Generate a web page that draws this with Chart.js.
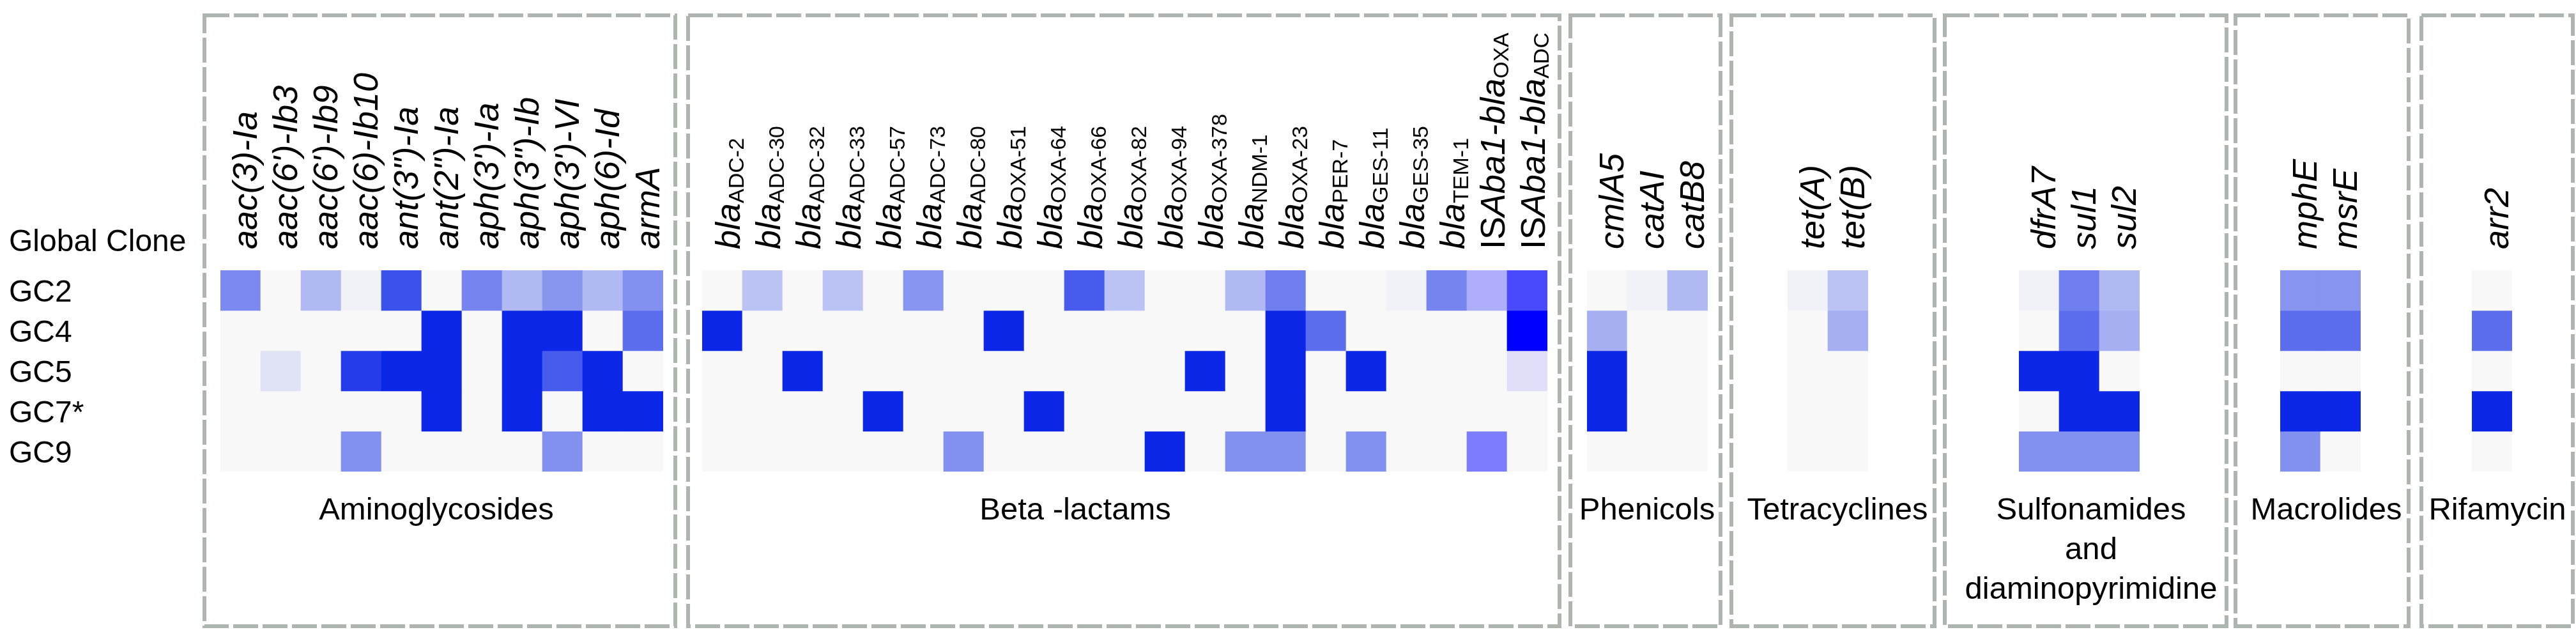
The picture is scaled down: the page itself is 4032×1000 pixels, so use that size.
<!DOCTYPE html>
<html>
<head>
<meta charset="utf-8">
<script src="https://cdn.jsdelivr.net/npm/chart.js@4"></script>
<style>
  body { margin: 0; background: #fff; }
  #wrap { position: relative; width: 4032px; height: 1000px; overflow: hidden; }
  #wrap canvas { position: absolute; top: 0; }
</style>
</head>
<body>
<div id="wrap"></div>
<script>
const cloneRows = ["GC2", "GC4", "GC5", "GC7*", "GC9"];

const aminoGenes = ["aac(3)-Ia", "aac(6')-Ib3", "aac(6')-Ib9", "aac(6)-Ib10", "ant(3\")-Ia", "ant(2\")-Ia",
                    "aph(3')-Ia", "aph(3\")-Ib", "aph(3')-VI", "aph(6)-Id", "armA"];
const aminoValues = [
  [0.53, 0, 0.3, 0.03, 0.8, 0, 0.55, 0.3, 0.47, 0.3, 0.5],
  [0, 0, 0, 0, 0, 1, 0, 1, 1, 0, 0.66],
  [0, 0.1, 0, 0.9, 1, 1, 0, 1, 0.75, 1, 0],
  [0, 0, 0, 0, 0, 1, 0, 1, 0, 1, 1],
  [0, 0, 0, 0.5, 0, 0, 0, 0, 0.5, 0, 0]
];

const betaGenes = ["bla_ADC-2", "bla_ADC-30", "bla_ADC-32", "bla_ADC-33", "bla_ADC-57", "bla_ADC-73", "bla_ADC-80",
                   "bla_OXA-51", "bla_OXA-64", "bla_OXA-66", "bla_OXA-82", "bla_OXA-94", "bla_OXA-378", "bla_NDM-1",
                   "bla_OXA-23", "bla_PER-7", "bla_GES-11", "bla_GES-35", "bla_TEM-1", "ISAba1-bla_OXA", "ISAba1-bla_ADC"];
const betaValues = [
  [0, 0.26, 0, 0.26, 0, 0.48, 0, 0, 0, 0.75, 0.26, 0, 0, 0.3, 0.58, 0, 0, 0.03, 0.55, 0.3, 0.7],
  [1, 0, 0, 0, 0, 0, 0, 1, 0, 0, 0, 0, 0, 0, 1, 0.66, 0, 0, 0, 0, 1],
  [0, 0, 1, 0, 0, 0, 0, 0, 0, 0, 0, 0, 1, 0, 1, 0, 1, 0, 0, 0, 0.1],
  [0, 0, 0, 0, 1, 0, 0, 0, 1, 0, 0, 0, 0, 0, 1, 0, 0, 0, 0, 0, 0],
  [0, 0, 0, 0, 0, 0, 0.5, 0, 0, 0, 0, 1, 0, 0.5, 0.5, 0, 0.5, 0, 0, 0.5, 0]
];

const phenGenes = ["cmlA5", "catAI", "catB8"];
const phenValues = [[0, 0.03, 0.3], [0.35, 0, 0], [1, 0, 0], [1, 0, 0], [0, 0, 0]];

const tetGenes = ["tet(A)", "tet(B)"];
const tetValues = [[0.03, 0.26], [0, 0.35], [0, 0], [0, 0], [0, 0]];

const sulGenes = ["dfrA7", "sul1", "sul2"];
const sulValues = [[0.03, 0.58, 0.3], [0, 0.66, 0.35], [1, 1, 0], [0, 1, 1], [0.5, 0.5, 0.5]];

const macGenes = ["mphE", "msrE"];
const macValues = [[0.48, 0.48], [0.66, 0.66], [0, 0], [1, 1], [0.5, 0]];

const rifGenes = ["arr2"];
const rifValues = [[0], [0.66], [0], [1], [0]];

// layout of the seven boxes (page pixels)
const groups = [
  {title: ["Aminoglycosides"], genes: aminoGenes, values: aminoValues, box: [320, 1057], cellL: 345, titleX: 683, rowLabels: true},
  {title: ["Beta -lactams"], genes: betaGenes, values: betaValues, box: [1077, 2441], cellL: 1099, titleX: 1683},
  {title: ["Phenicols"], genes: phenGenes, values: phenValues, box: [2458, 2693], cellL: 2484, titleX: 2578},
  {title: ["Tetracyclines"], genes: tetGenes, values: tetValues, box: [2710, 3028], cellL: 2798, titleX: 2876},
  {title: ["Sulfonamides", "and", "diaminopyrimidine"], genes: sulGenes, values: sulValues, box: [3044, 3485], cellL: 3160, titleX: 3273},
  {title: ["Macrolides"], genes: macGenes, values: macValues, box: [3499, 3770], cellL: 3569, titleX: 3641},
  {title: ["Rifamycin"], genes: rifGenes, values: rifValues, box: [3790, 4027], cellL: 3869, titleX: 3909}
];

const CELL = 63;
const TOP = 423;
const FONT = '"Liberation Sans", Arial, sans-serif';

function cellColor(v, pure) {
  const lo = [248, 248, 248];
  const hi = pure ? [0, 0, 255] : [12, 39, 232];
  const c = lo.map((l, i) => Math.round(l + (hi[i] - l) * v));
  return "rgb(" + c.join(",") + ")";
}

function parseLabel(s) {
  const segs = [];
  let main = s, sub = null;
  if (s.indexOf("_") >= 0) { [main, sub] = s.split("_"); }
  if (main.startsWith("IS")) {
    segs.push({text: "IS", font: "54px " + FONT, dy: 0});
    main = main.slice(2);
  }
  segs.push({text: main, font: "italic 54px " + FONT, dy: 0});
  if (sub) segs.push({text: sub, font: "34px " + FONT, dy: 6});
  return segs;
}

const decor = {
  id: "decor",
  afterDraw(chart) {
    const g = chart.config.options.plugins.decor.group;
    const off = chart.config.options.plugins.decor.left;
    const ctx = chart.ctx;
    const xs = chart.scales.x, ys = chart.scales.y;
    ctx.save();
    // dashed box
    ctx.strokeStyle = "#adb5ae";
    ctx.lineWidth = 6;
    ctx.setLineDash([39, 7]);
    ctx.strokeRect(g.box[0] - off, 24, g.box[1] - g.box[0], 956);
    ctx.setLineDash([]);
    ctx.fillStyle = "#000";
    // gene labels
    g.genes.forEach((name, i) => {
      const segs = parseLabel(name);
      const x = xs.getPixelForValue(i) + (name.indexOf("_") >= 0 ? 27 : 25);
      ctx.save();
      ctx.translate(x, 390);
      ctx.rotate(-Math.PI / 2);
      ctx.textAlign = "left";
      ctx.textBaseline = "alphabetic";
      let pos = 0;
      segs.forEach(sg => {
        ctx.font = sg.font;
        ctx.fillText(sg.text, pos, sg.dy);
        pos += ctx.measureText(sg.text).width;
      });
      ctx.restore();
    });
    // class title
    ctx.font = "49px " + FONT;
    ctx.textAlign = "center";
    ctx.textBaseline = "alphabetic";
    g.title.forEach((t, k) => ctx.fillText(t, g.titleX - off, 813 + k * 62));
    // clone labels
    if (g.rowLabels) {
      ctx.font = "48px " + FONT;
      ctx.textAlign = "left";
      ctx.fillText("Global Clone", 14 - off, 393);
      cloneRows.forEach((r, ri) => {
        ctx.fillText(r, 14 - off, ys.getPixelForValue(ri + 0.5) + 17);
      });
    }
    ctx.restore();
  }
};

const wrap = document.getElementById("wrap");
groups.forEach(g => {
  const left = g.rowLabels ? 0 : g.box[0] - 8;
  const right = Math.min(4032, g.box[1] + 8);
  const cv = document.createElement("canvas");
  cv.width = right - left;
  cv.height = 1000;
  cv.style.left = left + "px";
  cv.style.width = (right - left) + "px";
  cv.style.height = "1000px";
  wrap.appendChild(cv);
  const cellR = g.cellL + g.genes.length * CELL;
  new Chart(cv, {
    type: "bar",
    data: {
      labels: g.genes,
      datasets: cloneRows.map((r, ri) => ({
        label: r,
        data: g.genes.map(() => 1),
        backgroundColor: g.values[ri].map((v, ci) => cellColor(v, g.genes[ci].startsWith("IS"))),
        borderWidth: 0,
        barPercentage: 1,
        categoryPercentage: 1
      }))
    },
    options: {
      responsive: false,
      animation: false,
      devicePixelRatio: 1,
      layout: {padding: {left: g.cellL - left, right: right - cellR, top: TOP, bottom: 1000 - TOP - 5 * CELL}},
      scales: {
        x: {display: false, stacked: true},
        y: {display: false, stacked: true, min: 0, max: 5, reverse: true}
      },
      plugins: {
        legend: {display: false},
        tooltip: {enabled: false},
        decor: {group: g, left: left}
      }
    },
    plugins: [decor]
  });
});
</script>
</body>
</html>
